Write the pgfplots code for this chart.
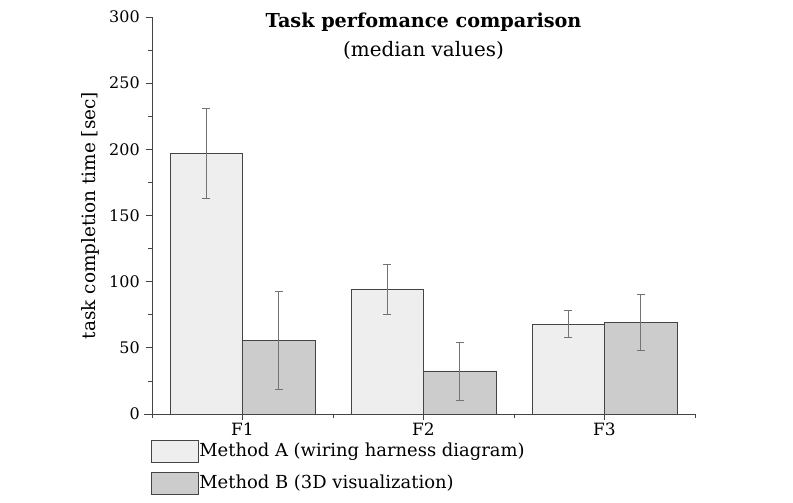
\documentclass[border=0pt]{standalone}
\usepackage{fontspec}
\setmainfont{DejaVu Serif}
\usepackage{pgfplots}
\pgfplotsset{compat=1.18}

\definecolor{fillA}{HTML}{EEEEEE}
\definecolor{fillB}{HTML}{CCCCCC}
\definecolor{edge}{HTML}{444444}

\begin{document}
\fontsize{18.5}{22}\selectfont
\begin{tikzpicture}
\path[use as bounding box] (0,0) rectangle (793bp,503bp);
\begin{axis}[
    at={(152bp,89bp)}, anchor=south west,
    scale only axis, clip=false,
    width=543bp, height=397bp,
    ybar, bar width=0.4,
    xmin=0.5, xmax=3.5,
    ymin=0, ymax=300,
    xtick={1,2,3},
    xticklabels={F1,F2,F3},
    minor xtick={0.5,1.5,2.5,3.5},
    ytick={0,50,...,300},
    minor ytick={25,75,...,275},
    axis x line*=bottom, axis y line*=left,
    axis line style={edge, line width=0.8pt, -},
    x axis line style={shorten <=-8bp},
    tick style={edge, line width=0.7pt},
    tick align=outside,
    major tick length=6bp, minor tick length=4bp,
    tick label style={font=\fontsize{16}{19}\selectfont},
    x tick label style={font=\fontsize{17}{20}\selectfont, yshift=3bp},
    ylabel={task completion time [sec]},
    ylabel style={yshift=-3bp},
    /pgf/number format/assume math mode=true,
    legend style={at={(-0.003,-0.065)}, anchor=north west, draw=none, fill=none,
        row sep=9bp, inner sep=0pt,
        nodes={inner sep=1bp, anchor=west, font=\fontsize{18}{21}\selectfont}},
    legend cell align=left,
    legend image code/.code={\draw[#1, draw=edge, line width=0.8pt] (0bp,-11bp) rectangle (47bp,11bp);},
    error bars/error bar style={gray!90!black, line width=0.6pt},
    error bars/error mark options={rotate=90, mark size=4bp, gray!90!black, line width=0.6pt},
]
\addplot[fill=fillA, draw=edge, line width=0.8pt, bar shift=-0.2,
    error bars/.cd, y dir=both, y explicit]
    coordinates {(1,197) +- (0,34) (2,94.5) +- (0,19) (3,68) +- (0,10)};
\addlegendentry{Method A (wiring harness diagram)}
\addplot[fill=fillB, draw=edge, line width=0.8pt, bar shift=0.2,
    error bars/.cd, y dir=both, y explicit]
    coordinates {(1,55.5) +- (0,37) (2,32.5) +- (0,22) (3,69.5) +- (0,21)};
\addlegendentry{Method B (3D visualization)}
\node[anchor=base, inner sep=0pt, font=\fontsize{19.3}{22}\selectfont\bfseries]
    at (axis description cs:0.5,0.973) {Task perfomance comparison};
\node[anchor=base, inner sep=0pt, font=\fontsize{20}{23}\selectfont]
    at (axis description cs:0.5,0.9) {(median values)};
\end{axis}
\end{tikzpicture}
\end{document}
